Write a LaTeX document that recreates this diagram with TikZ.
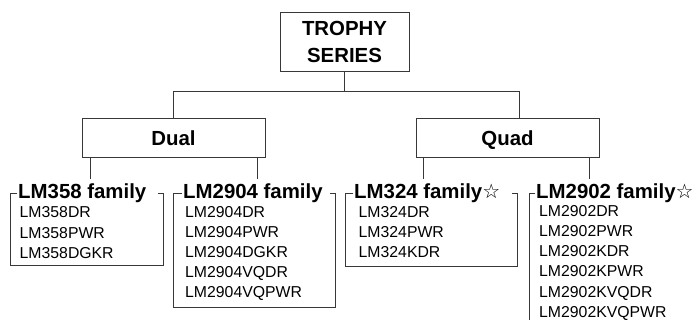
\documentclass[tikz,border=0pt]{standalone}
\usepackage{fontspec}
\setmainfont{Liberation Sans}
\newfontfamily\starfont{DejaVu Sans}
\newcommand{\wstar}{{\starfont\fontsize{20}{20}\selectfont ☆}}
\begin{document}
\begin{tikzpicture}[x=1pt,y=-1pt,
  line/.style={draw=black!78,line width=0.9pt},
  box/.style={line,fill=white,minimum height=39pt,inner sep=0pt,font=\fontsize{20.4}{27}\selectfont\bfseries},
  fam/.style={anchor=base west,inner sep=0pt,font=\fontsize{20.4}{24}\selectfont\bfseries},
  item/.style={anchor=base west,inner sep=0pt,font=\fontsize{15.8}{20}\selectfont}]
\useasboundingbox (0,0) rectangle (700,320);
% top boxes
\node[box,minimum width=129pt,minimum height=59pt,align=center] (trophy) at (344.5,41.5) {TROPHY\\SERIES};
\node[box,minimum width=183pt,text height=17pt,text depth=0pt] (dual) at (173.5,137.5) {Dual};
\node[box,minimum width=183pt,text height=17pt,text depth=0pt] (quad) at (507.5,137.5) {Quad};
\coordinate (bar) at (344.5,91);
\coordinate (qtop) at (519,118);
\draw[line] (trophy.south) -- (trophy.south |- bar);
\draw[line] (dual.north) -- (dual.north |- bar) -- (qtop |- bar) -- (qtop);
% child connectors
\coordinate (c358) at (90,179);
\coordinate (c2904) at (257,179);
\coordinate (c324) at (423,179);
\coordinate (c2902) at (589,179);
\draw[line] (c358 |- dual.south) -- (c358);
\draw[line] (c2904 |- dual.south) -- (c2904);
\draw[line] (c324 |- quad.south) -- (c324);
\draw[line] (c2902 |- quad.south) -- (c2902);
% family frames
\draw[line] (17,193) -- (10,193) -- (10,265) -- (163,265) -- (163,193) -- (158,193);
\draw[line] (182,193) -- (173,193) -- (173,307) -- (335,307) -- (335,193) -- (330,193);
\draw[line] (353,193) -- (345,193) -- (345,266) -- (517,266) -- (517,193) -- (512,193);
\draw[line] (535,193) -- (529,193) -- (529,321);
% titles
\node[fam] (t358) at (18,199) {LM358 family};
\node[fam] (t2904) at (183,199) {LM2904 family};
\node[fam] (t324) at (354,199) {LM324 family\wstar};
\node[fam] (t2902) at (536,199) {LM2902 family\wstar};
% items
\foreach \t [count=\i] in {LM358DR,LM358PWR,LM358DGKR}
  \node[item] (a\i) at (19.5,{198+20*\i}) {\t};
\foreach \t [count=\i] in {LM2904DR,LM2904PWR,LM2904DGKR,LM2904VQDR,LM2904VQPWR}
  \node[item] (b\i) at (185,{197+20*\i}) {\t};
\foreach \t [count=\i] in {LM324DR,LM324PWR,LM324KDR}
  \node[item] (c\i) at (358.5,{197+20*\i}) {\t};
\foreach \t [count=\i] in {LM2902DR,LM2902PWR,LM2902KDR,LM2902KPWR,LM2902KVQDR,LM2902KVQPWR}
  \node[item] (d\i) at (539,{196+20.2*\i}) {\t};
\end{tikzpicture}
\end{document}
